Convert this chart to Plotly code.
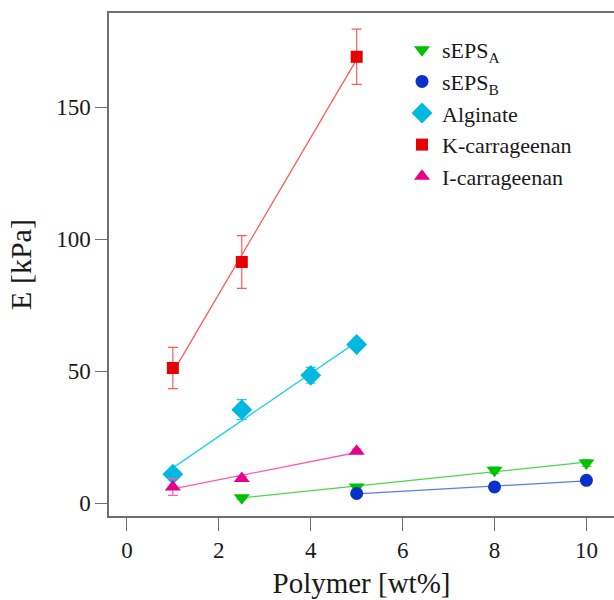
import numpy as np
import plotly.graph_objects as go

# ---- data ----
seps_a_x = [2.5, 5, 8, 10]
seps_a_y = [2.0, 6.1, 12.4, 15.2]
seps_a_err = [0.5, 0.8, 1.2, 1.3]

seps_b_x = [5, 8, 10]
seps_b_y = [3.6, 6.1, 8.6]
seps_b_err = [0.3, 0.3, 0.3]

alg_x = [1, 2.5, 4, 5]
alg_y = [10.9, 35.4, 48.4, 60.1]
alg_err = [0.8, 3.8, 3.0, 0.8]

kcar_x = [1, 2.5, 5]
kcar_y = [51.2, 91.4, 169.2]
kcar_err = [7.8, 10.0, 10.5]

icar_x = [1, 2.5, 5]
icar_y = [6.1, 9.3, 19.6]
icar_err = [3.2, 0.8, 0.8]

x_ticks = [0, 2, 4, 6, 8, 10]
y_ticks = [0, 50, 100, 150]

series = [
    ("sEPS<sub>A</sub>", seps_a_x, seps_a_y, seps_a_err, "triangle-down", 14, "#00c000", "#4cd64c"),
    ("sEPS<sub>B</sub>", seps_b_x, seps_b_y, seps_b_err, "circle", 13, "#0a32c8", "#5a7af0"),
    ("Alginate", alg_x, alg_y, alg_err, "diamond", 16, "#00b8e0", "#20d0f0"),
    ("K-carrageenan", kcar_x, kcar_y, kcar_err, "square", 12, "#e60000", "#ff5a5a"),
    ("I-carrageenan", icar_x, icar_y, icar_err, "triangle-up", 14, "#e6008c", "#ff5ab4"),
]

FONT = "Liberation Serif, Times New Roman, serif"
fig = go.Figure()

# fit lines
for name, xs, ys, err, sym, size, mcol, lcol in series:
    p = np.polyfit(xs, ys, 1)
    fx = np.array([min(xs), max(xs)])
    fig.add_trace(go.Scatter(x=fx, y=np.polyval(p, fx), mode="lines",
                             line=dict(color=lcol, width=1.3),
                             showlegend=False, hoverinfo="skip"))

for i, (name, xs, ys, err, sym, size, mcol, lcol) in enumerate(series):
    fig.add_trace(go.Scatter(
        x=xs, y=ys, mode="markers", name=name, legendgroup=str(i),
        marker=dict(symbol=sym, size=size, color=mcol, line=dict(width=0)),
        error_y=dict(type="data", array=err, visible=True, color=lcol,
                     thickness=1.2, width=5),
    ))

fig.update_layout(
    width=614, height=600,
    margin=dict(l=109, r=0, t=13, b=84, autoexpand=False),
    plot_bgcolor="white", paper_bgcolor="white",
    font=dict(family=FONT, color="#1a1a1a"),
    legend=dict(xref="container", yref="container",
                x=402 / 614, y=1 - 29 / 600,
                xanchor="left", yanchor="top",
                font=dict(size=22, family=FONT, color="#1a1a1a"),
                bgcolor="rgba(0,0,0,0)",
                tracegroupgap=0, traceorder="grouped"),
    showlegend=True,
)

fig.update_xaxes(
    range=[-0.39, 10.6], tickvals=x_ticks, ticktext=[str(v) for v in x_ticks],
    showline=True, linecolor="#6e6e6e", linewidth=1.5, mirror=True,
    ticks="outside", ticklen=13, tickwidth=1.2, tickcolor="#6e6e6e",
    showgrid=False, zeroline=False,
    tickfont=dict(size=23, family=FONT, color="#1a1a1a"),
    title=dict(text="Polymer [wt%]", font=dict(size=29, family=FONT, color="#1a1a1a"), standoff=10),
)
fig.update_yaxes(
    range=[-4.93, 185.8], tickvals=y_ticks, ticktext=[str(v) for v in y_ticks],
    showline=True, linecolor="#6e6e6e", linewidth=1.5, mirror=False,
    ticks="outside", ticklen=12, tickwidth=1.2, tickcolor="#6e6e6e",
    showgrid=False, zeroline=False,
    tickfont=dict(size=23, family=FONT, color="#1a1a1a"),
    title=dict(text="E [kPa]", font=dict(size=30, family=FONT, color="#1a1a1a"), standoff=16),
)

fig.write_html("out.html")
